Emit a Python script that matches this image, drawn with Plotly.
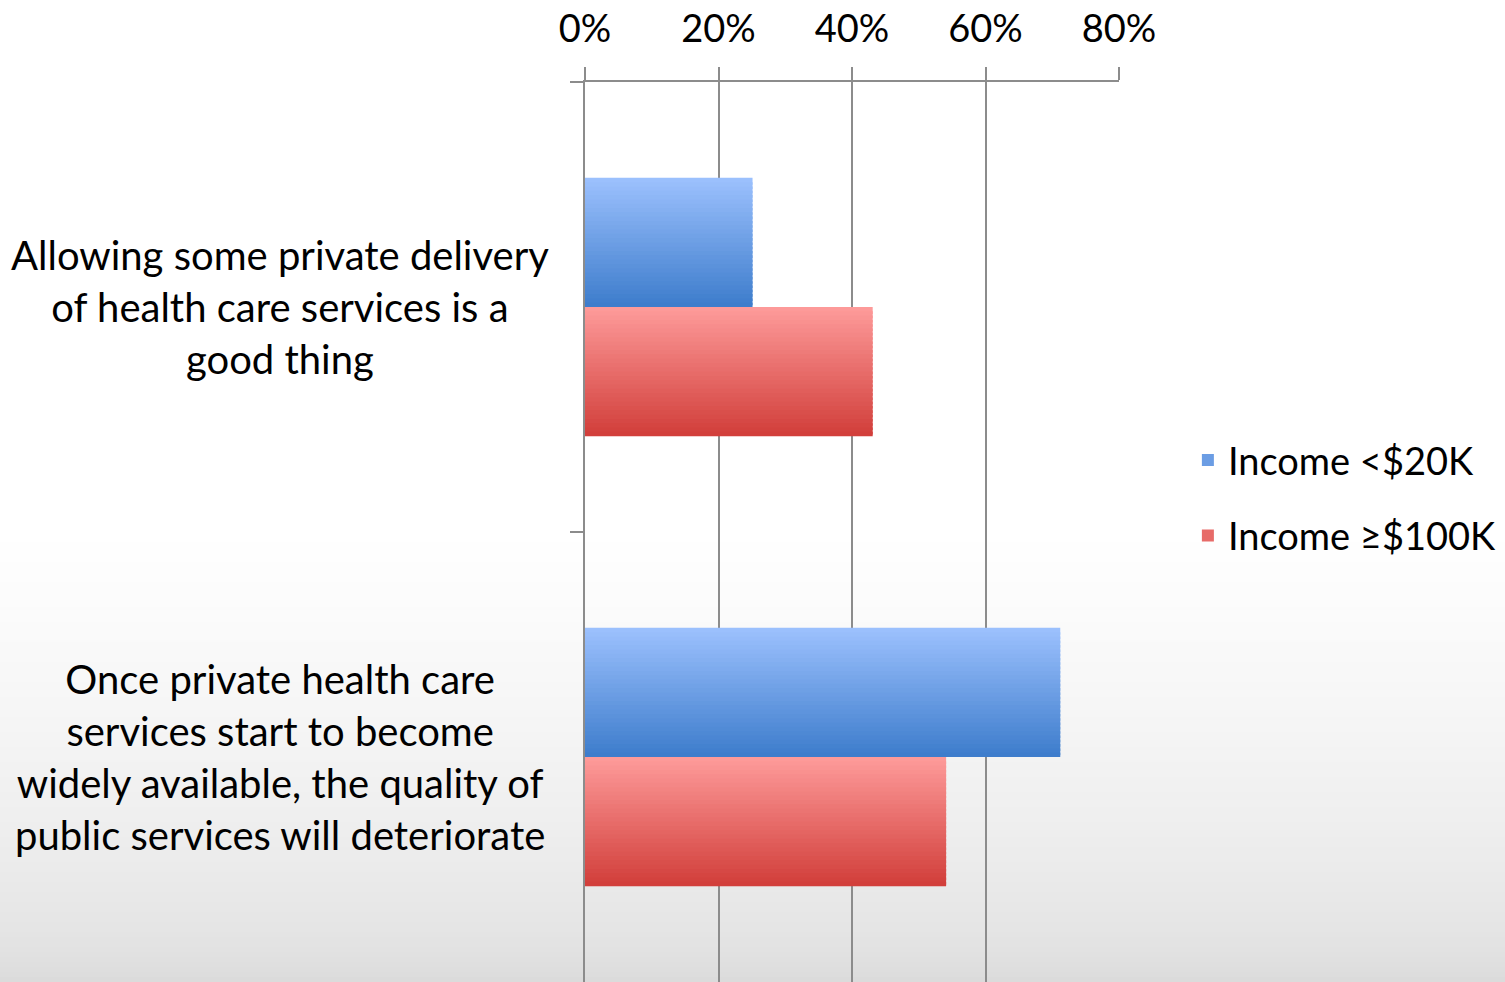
import plotly.graph_objects as go

# Data
categories = ['Allowing some private delivery<br>of health care services is a<br>good thing',
              'Once private health care<br>services start to become<br>widely available, the quality of<br>public services will deteriorate']
series_names = ['Income <$20K', 'Income ≥$100K']
low_income = [25.1, 71.2]
high_income = [43.1, 54.1]
x_ticks = [0, 20, 40, 60, 80]
x_tick_labels = ['0%', '20%', '40%', '60%', '80%']

FONT = 'Lato'
N_STRIPS = 30
BAR_W = 0.287


def hex_to_rgb(h):
    h = h.lstrip('#')
    return tuple(int(h[i:i + 2], 16) for i in (0, 2, 4))


def mix(c1, c2, t):
    a, b = hex_to_rgb(c1), hex_to_rgb(c2)
    return 'rgb({},{},{})'.format(*[round(a[k] + (b[k] - a[k]) * t) for k in range(3)])


fig = go.Figure()

# Each bar is drawn as thin horizontal strips to fake the vertical gradient fill
series = [(series_names[0], low_income, '#9BC0FD', '#3E7DCC'),
          (series_names[1], high_income, '#FD9A99', '#D23F3B')]
for s, (name, vals, top_c, bot_c) in enumerate(series):
    strip = BAR_W / N_STRIPS
    for i in range(N_STRIPS):
        t = i / (N_STRIPS - 1)
        w = strip if i == N_STRIPS - 1 else strip * 1.6
        fig.add_trace(go.Bar(y=categories, x=vals, orientation='h',
                             name=name, legendgroup=name,
                             showlegend=(i == N_STRIPS // 2),
                             offset=-BAR_W + s * BAR_W + i * strip,
                             width=w,
                             marker=dict(color=mix(top_c, bot_c, t), line_width=0),
                             hoverinfo='skip'))

# Category labels, centred beside the bars
for cat in categories:
    fig.add_annotation(text=cat, xref='paper', yref='y', x=-0.571, y=cat,
                       xanchor='center', yanchor='middle', align='center',
                       showarrow=False, font=dict(family=FONT, size=40, color='black'))

# Soft grey gradient at the bottom of the slide background
n_bands = 90
for k in range(n_bands):
    y0 = 0.5 * k / n_bands
    y1 = 0.5 * (k + 1) / n_bands + 0.002
    shade = mix('#D9D9D9', '#FFFFFF', ((k + 0.5) / n_bands) ** 0.55)
    fig.add_shape(type='rect', xref='paper', yref='paper', x0=-1.2, x1=1.8, y0=y0, y1=y1,
                  fillcolor=shade, line_width=0, layer='below')

fig.update_layout(
    width=1505, height=982,
    margin=dict(l=585, r=386, t=82, b=0),
    paper_bgcolor='white', plot_bgcolor='rgba(0,0,0,0)',
    barmode='overlay',
    font=dict(family=FONT, size=38, color='black'),
    xaxis=dict(side='top', range=[0, 80], tickvals=x_ticks, ticktext=x_tick_labels,
               showgrid=True, gridcolor='#8C8C8C', gridwidth=1.5,
               showline=True, linecolor='#8C8C8C', linewidth=1.5,
               ticks='outside', ticklen=13, tickcolor='#8C8C8C', tickwidth=1.5,
               ticklabelstandoff=10, zeroline=False,
               tickfont=dict(family=FONT, size=38, color='black')),
    yaxis=dict(autorange='reversed', showticklabels=False, showgrid=False,
               showline=True, linecolor='#8C8C8C', linewidth=1.5,
               ticks='outside', ticklen=13, tickcolor='#8C8C8C', tickwidth=1.5,
               tickson='boundaries'),
    legend=dict(x=1.129, y=0.538, xanchor='left', yanchor='middle',
                bgcolor='rgba(0,0,0,0)', tracegroupgap=23,
                font=dict(family=FONT, size=38, color='black')),
)

# Drop the default page margin so the figure fills the window
fig.write_html('out.html', config={'displayModeBar': False},
               post_script="document.body.style.margin='0';")
